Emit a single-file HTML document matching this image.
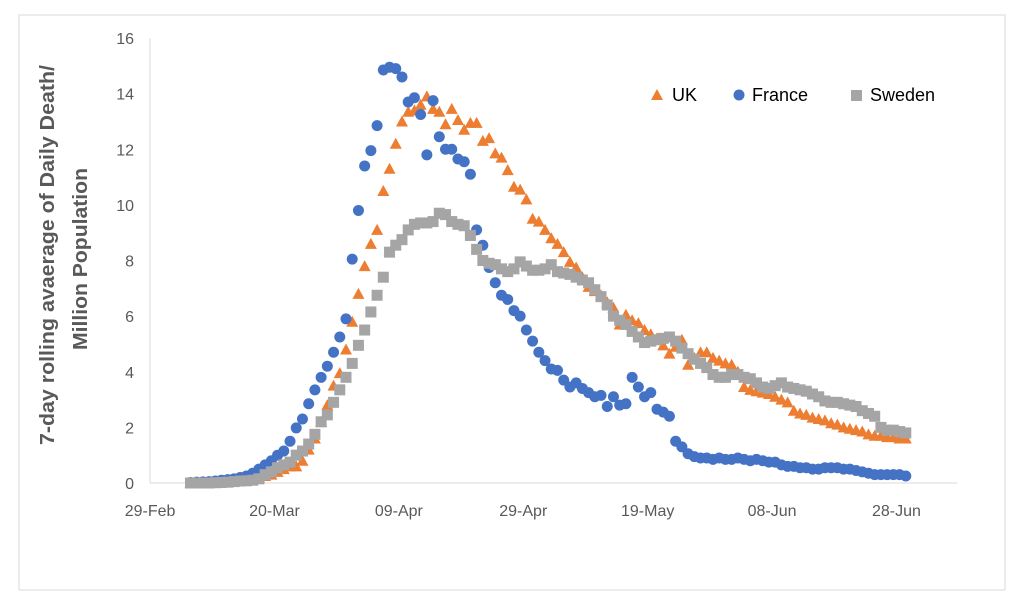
<!DOCTYPE html>
<html><head><meta charset="utf-8">
<style>
html,body{margin:0;padding:0;background:#fff;}
svg{display:block;font-family:"Liberation Sans",sans-serif;}
</style></head>
<body>
<svg id="chart" width="1024" height="608" viewBox="0 0 1024 608" xmlns="http://www.w3.org/2000/svg">
<rect x="19" y="15" width="986" height="575" fill="#fff" stroke="#d9d9d9" stroke-width="1"/>
<g id="axes"></g>
<g id="series"></g>
<text transform="translate(54,255) rotate(-90)" text-anchor="middle" font-size="20" font-weight="bold" fill="#595959" textLength="380" lengthAdjust="spacingAndGlyphs">7-day rolling avaerage of Daily Death/</text>
<text transform="translate(87,259) rotate(-90)" text-anchor="middle" font-size="20" font-weight="bold" fill="#595959" textLength="182" lengthAdjust="spacingAndGlyphs">Million Population</text>
<g>
<polygon points="657,89 663,100 651,100" fill="#ED7D31"/>
<text x="672" y="101" font-size="18" fill="#000">UK</text>
<circle cx="739" cy="95" r="5.5" fill="#4472C4"/>
<text x="752" y="101" font-size="18" fill="#000">France</text>
<rect x="851" y="90" width="11" height="11" fill="#A5A5A5"/>
<text x="870" y="101" font-size="18" fill="#000">Sweden</text>
</g>
</svg>
<script>
const tickLabels = ["29-Feb","20-Mar","09-Apr","29-Apr","19-May","08-Jun","28-Jun"];
const tickIndex = [-6.5, 13.5, 33.5, 53.5, 73.5, 93.5, 113.5];
const yTicks = [0,2,4,6,8,10,12,14,16];
const ukValues = [0,0,0,0,0.01,0.02,0.03,0.05,0.08,0.1,0.15,0.2,0.25,0.3,0.4,0.5,0.6,0.6,0.8,1.2,1.6,2.2,2.8,3.5,3.95,4.8,5.8,6.8,7.8,8.6,9.1,10.5,11.3,12.2,13.0,13.35,13.4,13.6,13.9,13.45,13.35,12.9,13.45,13.05,12.7,12.95,12.95,12.3,12.4,11.85,11.7,11.25,10.65,10.55,10.2,9.5,9.4,9.1,8.8,8.6,8.3,7.95,7.75,7.4,7.05,6.9,6.75,6.5,6.3,5.7,6.05,5.85,5.75,5.5,5.35,5.2,4.95,4.65,4.9,5.15,4.25,4.5,4.7,4.7,4.5,4.4,4.3,4.25,4.0,3.45,3.35,3.3,3.25,3.2,3.1,3.0,2.9,2.6,2.5,2.45,2.35,2.3,2.25,2.15,2.1,2.0,1.95,1.9,1.85,1.75,1.7,1.7,1.65,1.65,1.6,1.6];
const franceValues = [0.02,0.03,0.04,0.05,0.07,0.1,0.12,0.15,0.2,0.25,0.35,0.5,0.65,0.8,1.0,1.15,1.5,1.98,2.3,2.85,3.35,3.8,4.2,4.7,5.25,5.9,8.05,9.8,11.4,11.95,12.85,14.85,14.95,14.9,14.6,13.7,13.85,13.25,11.8,13.75,12.45,12.0,12.0,11.65,11.55,11.1,9.1,8.55,7.75,7.2,6.75,6.6,6.2,6.0,5.5,5.1,4.7,4.4,4.1,4.05,3.7,3.45,3.6,3.4,3.25,3.1,3.15,2.75,3.1,2.8,2.85,3.8,3.45,3.1,3.25,2.65,2.55,2.4,1.5,1.3,1.05,0.95,0.9,0.9,0.85,0.9,0.85,0.85,0.9,0.85,0.8,0.85,0.8,0.75,0.75,0.65,0.6,0.6,0.55,0.55,0.5,0.5,0.55,0.55,0.55,0.5,0.5,0.45,0.4,0.35,0.3,0.3,0.3,0.3,0.3,0.25];
const swedenValues = [0,0,0,0,0.01,0.02,0.03,0.05,0.07,0.08,0.1,0.15,0.3,0.4,0.55,0.65,0.75,1.0,1.15,1.4,1.75,2.2,2.45,2.9,3.35,3.8,4.3,4.95,5.5,6.15,6.75,7.4,8.3,8.55,8.75,9.1,9.3,9.35,9.35,9.4,9.7,9.65,9.4,9.3,9.25,8.9,8.4,8.0,7.9,7.85,7.7,7.6,7.7,7.95,7.8,7.65,7.65,7.7,7.85,7.6,7.55,7.5,7.4,7.3,7.2,6.95,6.7,6.4,6.0,5.85,5.7,5.45,5.25,5.05,5.1,5.15,5.2,5.25,5.1,4.85,4.65,4.45,4.3,4.15,3.9,3.8,3.8,3.9,3.9,3.8,3.75,3.6,3.45,3.4,3.5,3.6,3.45,3.4,3.35,3.3,3.2,3.1,2.95,2.9,2.9,2.85,2.8,2.75,2.6,2.5,2.4,2.0,1.9,1.9,1.85,1.8];

const NS = "http://www.w3.org/2000/svg";
const X0 = 190.5, STEP = 6.22, Y0 = 483, YTOP = 38, YMAX = 16;
function xScale(i){ return X0 + i*STEP; }
function yScale(v){ return Y0 - v/YMAX*(Y0-YTOP); }
function mk(tag, attrs){ const e=document.createElementNS(NS,tag); for(const k in attrs) e.setAttribute(k, attrs[k]); return e; }

const axes = document.getElementById('axes');
const yAxis = mk('line',{x1:150,y1:YTOP,x2:150,y2:Y0,stroke:'#d9d9d9','stroke-width':1});


axes.appendChild(yAxis);
const xAxis = mk('line',{x1:150,y1:Y0,x2:957,y2:Y0,stroke:'#d9d9d9','stroke-width':1});


axes.appendChild(xAxis);
yTicks.forEach(v=>{
  const y=yScale(v);
  const t=mk('text',{x:134,y:y+6,'text-anchor':'end','font-size':16,fill:'#595959'});
  t.textContent=v;
  
  
  axes.appendChild(t);
});
tickIndex.forEach((ti,k)=>{
  const x=xScale(ti);
  const t=mk('text',{x:x,y:516,'text-anchor':'middle','font-size':16,fill:'#595959'});
  t.textContent=tickLabels[k];
  
  
  axes.appendChild(t);
});

const g=document.getElementById('series');
ukValues.forEach((v,i)=>{
  const x=xScale(i), y=yScale(v);
  const p=mk('polygon',{points:`${x},${y-6} ${x+6},${y+5} ${x-6},${y+5}`,fill:'#ED7D31'});
  
  
  g.appendChild(p);
});
franceValues.forEach((v,i)=>{
  const c=mk('circle',{cx:xScale(i),cy:yScale(v),r:5.5,fill:'#4472C4'});
  
  
  g.appendChild(c);
});
swedenValues.forEach((v,i)=>{
  const r=mk('rect',{x:xScale(i)-5.5,y:yScale(v)-5.5,width:11,height:11,fill:'#A5A5A5'});
  
  
  g.appendChild(r);
});
</script>
</body></html>
